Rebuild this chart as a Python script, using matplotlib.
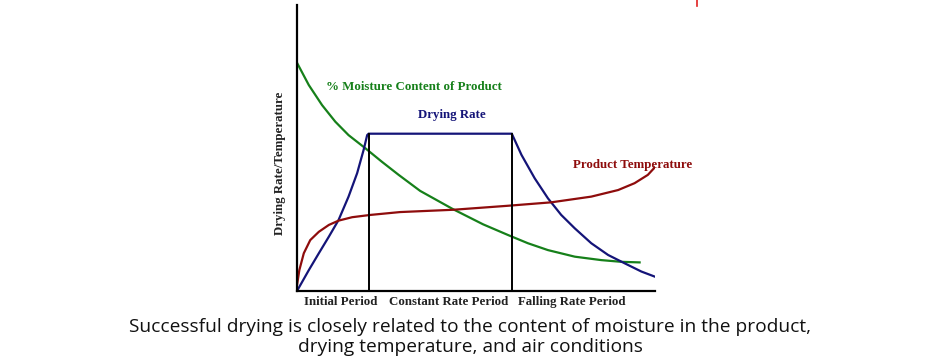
import matplotlib.pyplot as plt
from matplotlib.lines import Line2D

# curves (x: 0-100 drying time, y: 0-100 arbitrary)
moisture_x = [0, 3.3, 7, 10.7, 14.4, 19.1, 23.7, 28.4, 34.4, 43.6, 52, 58.9, 64.5, 70.1, 77.6, 85, 90.6, 95.7]
moisture_y = [79.8, 72, 65, 59.2, 54.5, 49.9, 45.2, 40.6, 35.0, 28.6, 23.3, 19.6, 16.7, 14.3, 12.0, 10.8, 10.2, 10.0]

rate_x = [0, 3.3, 6.1, 8.9, 11.6, 14.4, 16.8, 18.6, 19.6, 20, 60, 62.7, 66.4, 70.1, 73.8, 77.6, 82.2, 86.9, 91.5, 96.2, 100]
rate_y = [0, 7.3, 13.2, 19, 24.8, 33, 41.2, 49.3, 54.5, 55, 55, 47.6, 39.4, 32.4, 26.6, 21.9, 16.7, 12.6, 9.7, 6.8, 5.0]

temp_x = [0, 0.65, 1.9, 3.7, 6.1, 8.9, 11.6, 15.4, 20.5, 28.8, 43.6, 58.9, 71, 82.2, 89.7, 94.3, 98, 100]
temp_y = [2, 7.3, 13.2, 17.8, 20.7, 23.1, 24.6, 25.8, 26.6, 27.6, 28.4, 29.8, 31.0, 33.0, 35.3, 37.7, 40.6, 43.3]

period_bounds = [20, 60]
period_labels = ["Initial Period", "Constant Rate Period", "Falling Rate Period"]
period_centers = [12.3, 42.3, 76.8]

green = "#16801a"
navy = "#141478"
maroon = "#8e0c0c"

fig = plt.figure(figsize=(9.4, 3.62), dpi=100)
ax = fig.add_axes([297 / 940, 1 - 291 / 362, 358 / 940, 286 / 362])

ax.plot(moisture_x, moisture_y, color=green, lw=1.6)
ax.plot(rate_x, rate_y, color=navy, lw=1.6, solid_joinstyle="miter")
ax.plot(temp_x, temp_y, color=maroon, lw=1.6)
for b in period_bounds:
    ax.plot([b, b], [0, 55], color="black", lw=1.4)

ax.set_xlim(0, 100)
ax.set_ylim(0, 100)
ax.set_xticks([])
ax.set_yticks([])
for side in ["top", "right"]:
    ax.spines[side].set_visible(False)
for side in ["left", "bottom"]:
    ax.spines[side].set_linewidth(1.6)

serif = dict(family="Liberation Serif", weight="bold", fontsize=9.3)
ax.text(32.7, 71.3, "% Moisture Content of Product", color=green, ha="center", va="center", **serif)
ax.text(43.3, 61.5, "Drying Rate", color=navy, ha="center", va="center", **serif)
ax.text(93.7, 44.1, "Product Temperature", color=maroon, ha="center", va="center", clip_on=False, **serif)
for c, lab in zip(period_centers, period_labels):
    ax.text(c, -3.9, lab, color="#222222", ha="center", va="center", clip_on=False, **serif)
ax.text(-4.7, 44.6, "Drying Rate/Temperature", color="#222222", rotation=90,
        ha="center", va="center", clip_on=False, **serif)

# small red mark at the top edge of the original image
fig.add_artist(Line2D([697 / 940, 697 / 940], [1, 1 - 6 / 362], color="#e02020", lw=1.2))

caption_font = dict(ha="center", va="center", fontsize=13.8, family="Open Sans", color="#111111")
fig.text(0.5, 1 - 327 / 362, "Successful drying is closely related to the content of moisture in the product,",
         **caption_font)
fig.text(0.5, 1 - 347 / 362, "drying temperature, and air conditions", **caption_font)

fig.savefig("out.png", dpi=100)
